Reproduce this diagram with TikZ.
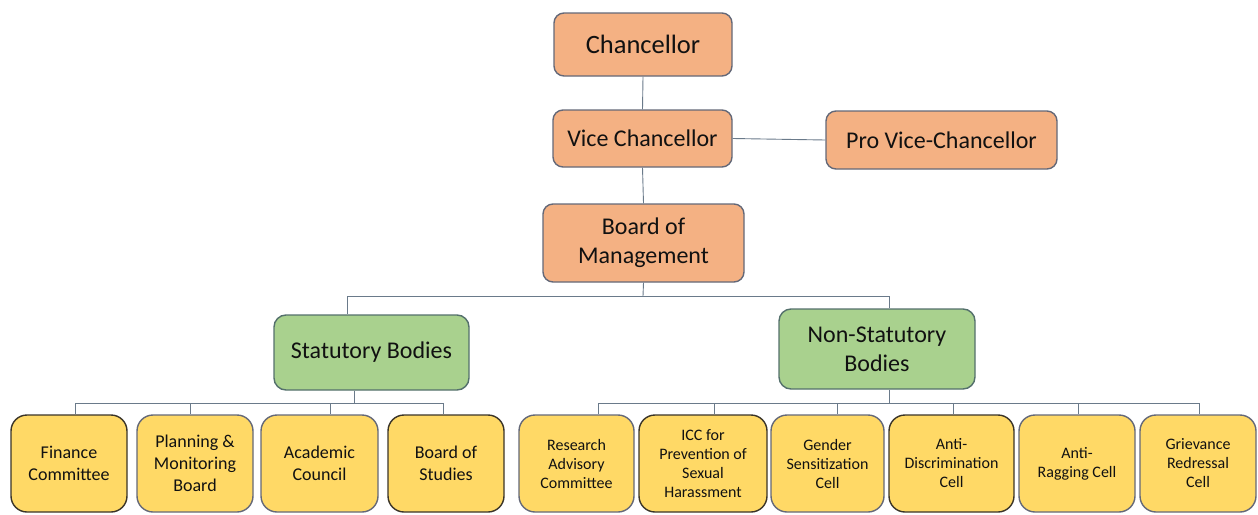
\documentclass[tikz,border=0pt]{standalone}
\usepackage{fontspec}
\setmainfont{Carlito}
\definecolor{orangef}{HTML}{F4B183}
\definecolor{greenf}{HTML}{A9D18E}
\definecolor{yellowf}{HTML}{FFD966}
\definecolor{bordgray}{HTML}{646878}
\definecolor{borddark}{HTML}{3A3428}
\definecolor{bordgreen}{HTML}{54706C}
\definecolor{linec}{HTML}{6A7A8A}
\definecolor{txt}{HTML}{111111}
\tikzset{
  box/.style={rectangle, draw=bordgray, line width=1.4pt, inner sep=0pt, align=center, text=txt},
  topbox/.style={box, fill=orangef, rounded corners=10pt, font=\fontsize{24}{29}\selectfont},
  midbox/.style={box, fill=greenf, draw=bordgreen, rounded corners=12pt, font=\fontsize{24}{29}\selectfont},
  statbox/.style={box, fill=yellowf, rounded corners=16pt, minimum height=97pt, font=\fontsize{18}{22}\selectfont},
  nstatbox/.style={box, fill=yellowf, rounded corners=16pt, minimum height=97pt, font=\fontsize{16}{19}\selectfont},
  dark/.style={draw=borddark},
  conn/.style={draw=linec, line width=0.9pt}
}
\begin{document}
\begin{tikzpicture}[x=1pt,y=-1pt]
\useasboundingbox (0,0) rectangle (1258,514);
% top nodes
\node[topbox, minimum width=178pt, minimum height=63pt, font=\fontsize{26.5}{30}\selectfont] (chan) at (643,44.5) {Chancellor};
\node[topbox, minimum width=179pt, minimum height=57pt] (vc) at (642.5,138.5) {Vice Chancellor};
\node[topbox, minimum width=231pt, minimum height=58pt] (pvc) at (941.5,140) {Pro Vice-Chancellor};
\node[topbox, minimum width=201pt, minimum height=78pt] (bom) at (643.5,243) {Board of\\Management};
% mid nodes
\node[midbox, minimum width=195pt, minimum height=75pt] (stat) at (371.5,352.5) {Statutory Bodies};
\node[midbox, minimum width=196pt, minimum height=80pt] (nstat) at (877,349) {Non-Statutory\\Bodies};
% statutory children
\node[statbox, dark, minimum width=116pt] (fin) at (69,463.5) {Finance\\Committee};
\node[statbox, minimum width=116pt] (plan) at (195,463.5) {Planning \&\\Monitoring\\Board};
\node[statbox, minimum width=117pt] (acad) at (319.5,463.5) {Academic\\Council};
\node[statbox, dark, minimum width=116pt] (bos) at (446,463.5) {Board of\\Studies};
% non-statutory children
\node[nstatbox, minimum width=115pt] (rac) at (576.5,463.5) {Research\\Advisory\\Committee};
\node[nstatbox, dark, minimum width=128pt] (icc) at (703,463.5) {ICC for\\Prevention of\\Sexual\\Harassment};
\node[nstatbox, minimum width=113pt] (gen) at (827.5,463.5) {Gender\\Sensitization\\Cell};
\node[nstatbox, dark, minimum width=125pt] (adc) at (951.5,463.5) {Anti-\\Discrimination\\Cell};
\node[nstatbox, minimum width=116pt] (arc) at (1077,463.5) {Anti-\\Ragging Cell};
\node[nstatbox, minimum width=116pt] (grc) at (1198,463.5) {Grievance\\Redressal\\Cell};
% connectors top
\draw[conn] (chan.south) -- (vc.north);
\draw[conn] (vc.east) -- (pvc.west);
\draw[conn] (vc.south) -- (bom.north);
% main bus
\coordinate (mb) at (643,296);
\draw[conn] (bom.south) -- (mb);
\draw[conn] (mb) -| ([xshift=-24.5pt]stat.north);
\draw[conn] (mb) -| ([xshift=12pt]nstat.north);
% statutory bus
\coordinate (sb) at (354,403);
\draw[conn] (stat.south -| sb) -- (sb);
\draw[conn] (sb) -| ([xshift=6pt]fin.north);
\draw[conn] (sb) -| ([xshift=-5pt]plan.north);
\draw[conn] (sb) -| ([xshift=10.5pt]acad.north);
\draw[conn] (sb) -| ([xshift=-3pt]bos.north);
% non-statutory bus
\coordinate (nb) at (889,403);
\draw[conn] (nstat.south -| nb) -- (nb);
\draw[conn] (nb) -| ([xshift=21.5pt]rac.north);
\draw[conn] (nb) -| ([xshift=11pt]icc.north);
\draw[conn] (nb) -| ([xshift=9.5pt]gen.north);
\draw[conn] (nb) -| ([xshift=1.5pt]adc.north);
\draw[conn] (nb) -| ([xshift=1pt]arc.north);
\draw[conn] (nb) -| ([xshift=1pt]grc.north);
\end{tikzpicture}
\end{document}
